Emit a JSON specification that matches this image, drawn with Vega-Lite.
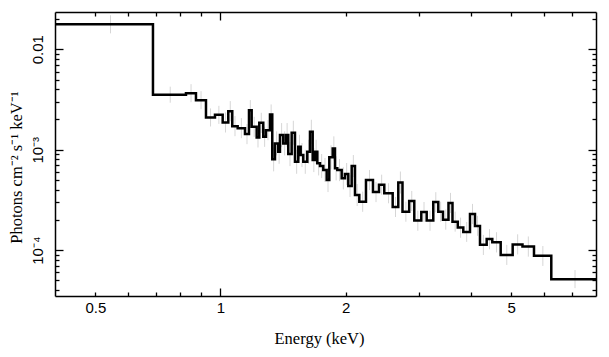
{
  "$schema": "https://vega.github.io/schema/vega-lite/v6.json",
  "width": 541,
  "height": 284,
  "autosize": "none",
  "padding": {"left": 55, "top": 12, "right": 13, "bottom": 61},
  "background": "white",
  "config": {
    "view": {"stroke": null},
    "axis": {
      "grid": false,
      "domainColor": "black",
      "domainWidth": 1.5,
      "tickColor": "black",
      "tickWidth": 1.3,
      "labelFont": "Liberation Sans",
      "labelFontSize": 15,
      "labelColor": "black",
      "labelFlush": false,
      "labelOverlap": false,
      "titleFont": "Liberation Serif",
      "titleFontSize": 16.5,
      "titleFontWeight": "normal",
      "titleColor": "black"
    }
  },
  "datasets": {
    "steps": [
      {"energy": 0.4, "flux": 0.01771},
      {"energy": 0.6881, "flux": 0.003531},
      {"energy": 0.8261, "flux": 0.003655},
      {"energy": 0.8731, "flux": 0.003113},
      {"energy": 0.9229, "flux": 0.002096},
      {"energy": 0.97, "flux": 0.002224},
      {"energy": 1.0123, "flux": 0.001869},
      {"energy": 1.0442, "flux": 0.002421},
      {"energy": 1.0675, "flux": 0.001718},
      {"energy": 1.0999, "flux": 0.001641},
      {"energy": 1.1454, "flux": 0.001431},
      {"energy": 1.171, "flux": 0.002477},
      {"energy": 1.1886, "flux": 0.001691},
      {"energy": 1.222, "flux": 0.001326},
      {"energy": 1.2397, "flux": 0.001852},
      {"energy": 1.2674, "flux": 0.001345},
      {"energy": 1.2866, "flux": 0.001567},
      {"energy": 1.3154, "flux": 0.002245},
      {"energy": 1.3322, "flux": 0.000802},
      {"energy": 1.3523, "flux": 0.001156},
      {"energy": 1.3772, "flux": 0.000954},
      {"energy": 1.3902, "flux": 0.001398},
      {"energy": 1.4158, "flux": 0.001156},
      {"energy": 1.4372, "flux": 0.001398},
      {"energy": 1.4556, "flux": 0.000905},
      {"energy": 1.4833, "flux": 0.001474},
      {"energy": 1.5107, "flux": 0.000759},
      {"energy": 1.5386, "flux": 0.00107},
      {"energy": 1.5592, "flux": 0.000885},
      {"energy": 1.5818, "flux": 0.000759},
      {"energy": 1.6172, "flux": 0.000954},
      {"energy": 1.6416, "flux": 0.001508},
      {"energy": 1.6663, "flux": 0.000789},
      {"energy": 1.6877, "flux": 0.000954},
      {"energy": 1.7093, "flux": 0.000732},
      {"energy": 1.7351, "flux": 0.000688},
      {"energy": 1.7671, "flux": 0.000628},
      {"energy": 1.8007, "flux": 0.000499},
      {"energy": 1.8268, "flux": 0.00084},
      {"energy": 1.8616, "flux": 0.001031},
      {"energy": 1.8854, "flux": 0.000653},
      {"energy": 1.9096, "flux": 0.000628},
      {"energy": 1.9566, "flux": 0.000519},
      {"energy": 1.9927, "flux": 0.000573},
      {"energy": 2.0295, "flux": 0.000435},
      {"energy": 2.0681, "flux": 0.000688},
      {"energy": 2.1062, "flux": 0.000354},
      {"energy": 2.157, "flux": 0.000304},
      {"energy": 2.2383, "flux": 0.000499},
      {"energy": 2.3268, "flux": 0.00038},
      {"energy": 2.4054, "flux": 0.000448},
      {"energy": 2.4771, "flux": 0.000369},
      {"energy": 2.595, "flux": 0.000269},
      {"energy": 2.6768, "flux": 0.000472},
      {"energy": 2.7398, "flux": 0.000242},
      {"energy": 2.8433, "flux": 0.000309},
      {"energy": 2.9248, "flux": 0.000197},
      {"energy": 3.0404, "flux": 0.00024},
      {"energy": 3.1327, "flux": 0.000197},
      {"energy": 3.2492, "flux": 0.000301},
      {"energy": 3.3405, "flux": 0.000242},
      {"energy": 3.4286, "flux": 0.000201},
      {"energy": 3.5346, "flux": 0.000295},
      {"energy": 3.6138, "flux": 0.000192},
      {"energy": 3.7215, "flux": 0.000168},
      {"energy": 3.8366, "flux": 0.000152},
      {"energy": 3.9816, "flux": 0.000229},
      {"energy": 4.0933, "flux": 0.000174},
      {"energy": 4.2083, "flux": 0.000113},
      {"energy": 4.3672, "flux": 0.000129},
      {"energy": 4.5049, "flux": 0.00012},
      {"energy": 4.7193, "flux": 0.0000898},
      {"energy": 5.0432, "flux": 0.000114},
      {"energy": 5.3245, "flux": 0.000109},
      {"energy": 5.6751, "flux": 0.0000878},
      {"energy": 6.2455, "flux": 0.0000515},
      {"energy": 8.0, "flux": 0.0000515}
    ],
    "bins": [
      {"e_mid": 0.544, "flux_lo": 0.0144, "flux_hi": 0.0218},
      {"e_mid": 0.7571, "flux_lo": 0.002938, "flux_hi": 0.004244},
      {"e_mid": 0.8496, "flux_lo": 0.002972, "flux_hi": 0.004496},
      {"e_mid": 0.898, "flux_lo": 0.002531, "flux_hi": 0.003829},
      {"e_mid": 0.9465, "flux_lo": 0.001704, "flux_hi": 0.002578},
      {"e_mid": 0.9912, "flux_lo": 0.001808, "flux_hi": 0.002736},
      {"e_mid": 1.0283, "flux_lo": 0.001484, "flux_hi": 0.002353},
      {"e_mid": 1.0559, "flux_lo": 0.001922, "flux_hi": 0.003048},
      {"e_mid": 1.0837, "flux_lo": 0.001364, "flux_hi": 0.002163},
      {"e_mid": 1.1227, "flux_lo": 0.001303, "flux_hi": 0.002066},
      {"e_mid": 1.1582, "flux_lo": 0.001136, "flux_hi": 0.001802},
      {"e_mid": 1.1798, "flux_lo": 0.001967, "flux_hi": 0.003119},
      {"e_mid": 1.2053, "flux_lo": 0.001343, "flux_hi": 0.002129},
      {"e_mid": 1.2309, "flux_lo": 0.001053, "flux_hi": 0.001669},
      {"e_mid": 1.2536, "flux_lo": 0.00147, "flux_hi": 0.002332},
      {"e_mid": 1.277, "flux_lo": 0.001068, "flux_hi": 0.001693},
      {"e_mid": 1.301, "flux_lo": 0.001244, "flux_hi": 0.001973},
      {"e_mid": 1.3238, "flux_lo": 0.001782, "flux_hi": 0.002826},
      {"e_mid": 1.3423, "flux_lo": 0.000609, "flux_hi": 0.001057},
      {"e_mid": 1.3648, "flux_lo": 0.000878, "flux_hi": 0.001524},
      {"e_mid": 1.3837, "flux_lo": 0.000724, "flux_hi": 0.001258},
      {"e_mid": 1.403, "flux_lo": 0.001061, "flux_hi": 0.001843},
      {"e_mid": 1.4265, "flux_lo": 0.000878, "flux_hi": 0.001524},
      {"e_mid": 1.4464, "flux_lo": 0.001061, "flux_hi": 0.001843},
      {"e_mid": 1.4695, "flux_lo": 0.000687, "flux_hi": 0.001193},
      {"e_mid": 1.497, "flux_lo": 0.001119, "flux_hi": 0.001943},
      {"e_mid": 1.5247, "flux_lo": 0.000576, "flux_hi": 0.001},
      {"e_mid": 1.5489, "flux_lo": 0.000812, "flux_hi": 0.00141},
      {"e_mid": 1.5705, "flux_lo": 0.000672, "flux_hi": 0.001166},
      {"e_mid": 1.5995, "flux_lo": 0.000576, "flux_hi": 0.001},
      {"e_mid": 1.6294, "flux_lo": 0.000724, "flux_hi": 0.001258},
      {"e_mid": 1.654, "flux_lo": 0.001145, "flux_hi": 0.001988},
      {"e_mid": 1.677, "flux_lo": 0.000599, "flux_hi": 0.00104},
      {"e_mid": 1.6985, "flux_lo": 0.000724, "flux_hi": 0.001258},
      {"e_mid": 1.7222, "flux_lo": 0.000555, "flux_hi": 0.000965},
      {"e_mid": 1.7511, "flux_lo": 0.000522, "flux_hi": 0.000907},
      {"e_mid": 1.7839, "flux_lo": 0.000477, "flux_hi": 0.000827},
      {"e_mid": 1.8138, "flux_lo": 0.000379, "flux_hi": 0.000658},
      {"e_mid": 1.8442, "flux_lo": 0.000637, "flux_hi": 0.001107},
      {"e_mid": 1.8735, "flux_lo": 0.000783, "flux_hi": 0.001359},
      {"e_mid": 1.8975, "flux_lo": 0.000495, "flux_hi": 0.00086},
      {"e_mid": 1.9331, "flux_lo": 0.000487, "flux_hi": 0.000809},
      {"e_mid": 1.9747, "flux_lo": 0.000403, "flux_hi": 0.000669},
      {"e_mid": 2.0111, "flux_lo": 0.000445, "flux_hi": 0.000738},
      {"e_mid": 2.0488, "flux_lo": 0.000338, "flux_hi": 0.000561},
      {"e_mid": 2.0872, "flux_lo": 0.000534, "flux_hi": 0.000886},
      {"e_mid": 2.1316, "flux_lo": 0.000275, "flux_hi": 0.000456},
      {"e_mid": 2.1977, "flux_lo": 0.000241, "flux_hi": 0.000383},
      {"e_mid": 2.2826, "flux_lo": 0.000396, "flux_hi": 0.000629},
      {"e_mid": 2.3661, "flux_lo": 0.000301, "flux_hi": 0.000478},
      {"e_mid": 2.4413, "flux_lo": 0.000356, "flux_hi": 0.000565},
      {"e_mid": 2.5361, "flux_lo": 0.000293, "flux_hi": 0.000464},
      {"e_mid": 2.6359, "flux_lo": 0.000214, "flux_hi": 0.000339},
      {"e_mid": 2.7083, "flux_lo": 0.000366, "flux_hi": 0.000607},
      {"e_mid": 2.7916, "flux_lo": 0.000192, "flux_hi": 0.000304},
      {"e_mid": 2.8841, "flux_lo": 0.000245, "flux_hi": 0.000389},
      {"e_mid": 2.9826, "flux_lo": 0.000156, "flux_hi": 0.000248},
      {"e_mid": 3.0866, "flux_lo": 0.000191, "flux_hi": 0.000302},
      {"e_mid": 3.191, "flux_lo": 0.000156, "flux_hi": 0.000248},
      {"e_mid": 3.2949, "flux_lo": 0.000239, "flux_hi": 0.000378},
      {"e_mid": 3.3846, "flux_lo": 0.000192, "flux_hi": 0.000304},
      {"e_mid": 3.4816, "flux_lo": 0.00016, "flux_hi": 0.000254},
      {"e_mid": 3.5742, "flux_lo": 0.000234, "flux_hi": 0.000372},
      {"e_mid": 3.6677, "flux_lo": 0.000153, "flux_hi": 0.000242},
      {"e_mid": 3.7791, "flux_lo": 0.000133, "flux_hi": 0.000211},
      {"e_mid": 3.9091, "flux_lo": 0.000121, "flux_hi": 0.000191},
      {"e_mid": 4.0375, "flux_lo": 0.000182, "flux_hi": 0.000289},
      {"e_mid": 4.1508, "flux_lo": 0.000139, "flux_hi": 0.00022},
      {"e_mid": 4.2878, "flux_lo": 0.0000896, "flux_hi": 0.000142},
      {"e_mid": 4.4361, "flux_lo": 0.000102, "flux_hi": 0.000162},
      {"e_mid": 4.6121, "flux_lo": 0.000095, "flux_hi": 0.000151},
      {"e_mid": 4.8813, "flux_lo": 0.0000713, "flux_hi": 0.000113},
      {"e_mid": 5.1839, "flux_lo": 0.0000907, "flux_hi": 0.000144},
      {"e_mid": 5.4998, "flux_lo": 0.0000862, "flux_hi": 0.000137},
      {"e_mid": 5.9603, "flux_lo": 0.0000697, "flux_hi": 0.00011},
      {"e_mid": 7.1228, "flux_lo": 0.0000419, "flux_hi": 0.0000634}
    ]
  },
  "layer": [
    {
      "data": {"name": "bins"},
      "mark": {"type": "rule", "color": "#d6d6d6", "strokeWidth": 1, "clip": true},
      "encoding": {
        "x": {
          "field": "e_mid", "type": "quantitative",
          "scale": {"type": "log", "domain": [0.4, 8], "nice": false},
          "axis": {
            "orient": "bottom",
            "values": [0.5, 0.6, 0.7, 0.8, 0.9, 1, 2, 3, 4, 5, 6, 7],
            "labelExpr": "datum.value == 0.5 ? '0.5' : datum.value == 1 ? '1' : datum.value == 2 ? '2' : datum.value == 5 ? '5' : ''",
            "tickSize": {"condition": {"test": "datum.value == 1", "value": -8}, "value": -4},
            "labelPadding": {"condition": {"test": "datum.value == 1", "value": 12.5}, "value": 8.5},
            "title": "Energy (keV)",
            "titleBaseline": "alphabetic",
            "titleAlign": "center",
            "titleX": 264,
            "titleY": 47
          }
        },
        "y": {
          "field": "flux_lo", "type": "quantitative",
          "scale": {"type": "log", "domain": [0.000035, 0.0235], "nice": false},
          "axis": {
            "orient": "left",
            "values": [0.00004, 0.00005, 0.00006, 0.00007, 0.00008, 0.00009, 0.0001, 0.0002, 0.0003, 0.0004, 0.0005, 0.0006, 0.0007, 0.0008, 0.0009, 0.001, 0.002, 0.003, 0.004, 0.005, 0.006, 0.007, 0.008, 0.009, 0.01, 0.02],
            "labelExpr": "datum.value == 0.01 ? '0.01' : datum.value == 0.001 ? '10⁻³' : datum.value == 0.0001 ? '10⁻⁴' : ''",
            "tickSize": {"condition": {"test": "datum.value == 0.01 || datum.value == 0.001 || datum.value == 0.0001", "value": -8}, "value": -4},
            "labelAngle": -90,
            "labelAlign": "center",
            "labelBaseline": "alphabetic",
            "labelPadding": 21,
            "title": "Photons cm⁻² s⁻¹ keV⁻¹",
            "titleBaseline": "alphabetic",
            "titleAlign": "center",
            "titleAngle": -90,
            "titleX": -34,
            "titleY": 155
          }
        },
        "y2": {"field": "flux_hi"}
      }
    },
    {
      "data": {"name": "steps"},
      "mark": {"type": "line", "interpolate": "step-after", "color": "black", "strokeWidth": 2.5, "clip": true},
      "encoding": {
        "x": {
          "field": "energy", "type": "quantitative",
          "scale": {"type": "log", "domain": [0.4, 8], "nice": false},
          "axis": {
            "orient": "top",
            "values": [0.5, 0.6, 0.7, 0.8, 0.9, 1, 2, 3, 4, 5, 6, 7],
            "labels": false,
            "title": null,
            "tickSize": {"condition": {"test": "datum.value == 1", "value": -8}, "value": -4}
          }
        },
        "y": {
          "field": "flux", "type": "quantitative",
          "scale": {"type": "log", "domain": [0.000035, 0.0235], "nice": false},
          "axis": {
            "orient": "right",
            "values": [0.00004, 0.00005, 0.00006, 0.00007, 0.00008, 0.00009, 0.0001, 0.0002, 0.0003, 0.0004, 0.0005, 0.0006, 0.0007, 0.0008, 0.0009, 0.001, 0.002, 0.003, 0.004, 0.005, 0.006, 0.007, 0.008, 0.009, 0.01, 0.02],
            "labels": false,
            "title": null,
            "tickSize": {"condition": {"test": "datum.value == 0.01 || datum.value == 0.001 || datum.value == 0.0001", "value": -8}, "value": -4}
          }
        }
      }
    }
  ],
  "resolve": {"axis": {"x": "independent", "y": "independent"}}
}
